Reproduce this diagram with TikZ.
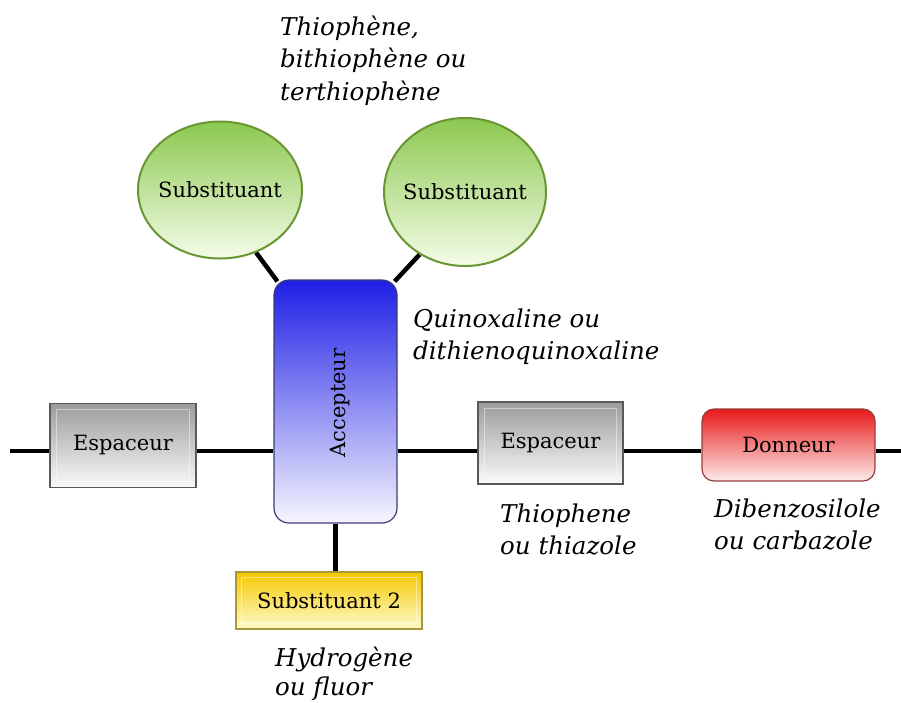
\documentclass[tikz,border=0pt]{standalone}
\usepackage{fontspec}
\setmainfont{DejaVu Serif}
\usetikzlibrary{shapes.geometric,backgrounds}
\begin{document}
\begin{tikzpicture}[x=1pt,y=-1pt,
  conn/.style={line width=4.5pt,black},
  boxfont/.style={font=\fontsize{21}{24}\selectfont},
  graybox/.style={rectangle,draw=gray!70!black,line width=1.2pt,top color=gray!78,bottom color=gray!4,boxfont,inner sep=0pt},
  greencirc/.style={ellipse,draw={rgb,255:red,105;green,150;blue,50},line width=2pt,top color={rgb,255:red,140;green,200;blue,80},bottom color={rgb,255:red,244;green,252;blue,232},inner sep=0pt,label={[boxfont,inner sep=0pt]center:#1}},
  accbox/.style={rectangle,rounded corners=15pt,draw={rgb,255:red,60;green,60;blue,120},line width=1.2pt,top color={rgb,255:red,30;green,30;blue,230},bottom color={rgb,255:red,246;green,246;blue,255},inner sep=0pt},
  redbox/.style={rectangle,rounded corners=12pt,draw={rgb,255:red,150;green,60;blue,60},line width=1.2pt,top color={rgb,255:red,232;green,25;blue,25},bottom color={rgb,255:red,253;green,235;blue,235},boxfont,inner sep=0pt},
  yellowbox/.style={rectangle,draw={rgb,255:red,170;green,150;blue,60},line width=1.2pt,top color={rgb,255:red,245;green,200;blue,0},bottom color={rgb,255:red,255;green,250;blue,205},boxfont,inner sep=0pt},
  bevel/.style={white,opacity=0.45,line width=1pt},
  note/.style={font=\fontsize{24.5}{32.5}\selectfont\itshape,align=left,anchor=north west,inner sep=0pt}
]
\useasboundingbox (0,0) rectangle (901,702);
% nodes
\node[graybox,minimum width=146pt,minimum height=84pt] (e1) at (123,445.5) {Espaceur};
\node[accbox,minimum width=123pt,minimum height=243pt] (acc) at (335.5,401.5) {};
\node[rotate=90,boxfont,inner sep=0pt] (acclab) at (340,403) {Accepteur};
\node[graybox,minimum width=145pt,minimum height=82pt] (e2) at (550.5,443) {Espaceur};
\node[redbox,minimum width=173pt,minimum height=72pt] (don) at (788.5,445) {Donneur};
\node[yellowbox,minimum width=186pt,minimum height=57pt] (s2) at (329,600.5) {Substituant 2};
\node[greencirc=Substituant,minimum width=164pt,minimum height=137pt] (c1) at (220,190) {};
\node[greencirc=Substituant,minimum width=162pt,minimum height=148pt] (c2) at (465,192) {};
% bevels
\draw[bevel] ([shift={(7,7)}]e1.north west) rectangle ([shift={(-7,-7)}]e1.south east);
\draw[bevel] ([shift={(7,7)}]e2.north west) rectangle ([shift={(-7,-7)}]e2.south east);
\draw[bevel] ([shift={(6,6)}]s2.north west) rectangle ([shift={(-6,-6)}]s2.south east);
% connectors
\coordinate (L) at (10,451);
\coordinate (R) at (901,451);
\begin{scope}[on background layer]
\draw[conn] (L) -- (e1.west |- L);
\draw[conn] (e1.east |- L) -- (acc.west |- L);
\draw[conn] (acc.east |- L) -- (e2.west |- L);
\draw[conn] (e2.east |- L) -- (don.west |- L);
\draw[conn] (don.east |- L) -- (R);
\draw[conn] (acc.south) -- (acc.south |- s2.north);
\draw[conn] (c1.-60) -- ([shift={(4,2)}]acc.north west);
\draw[conn] (c2.-126) -- ([shift={(-3,2)}]acc.north east);
\end{scope}
% notes
\node[note] (n1) at (280,15.5) {Thiophène,\\bithiophène ou\\terthiophène};
\node[note] (n2) at (413,308.5) {Quinoxaline ou\\dithienoquinoxaline};
\node[note] (n3) at (500,503.5) {Thiophene\\ou thiazole};
\node[note] (n4) at (714,498.5) {Dibenzosilole\\ou carbazole};
\node[note,font=\fontsize{24.5}{29.5}\selectfont\itshape] (n5) at (275,646.5) {Hydrogène\\ou fluor};
\end{tikzpicture}
\end{document}
